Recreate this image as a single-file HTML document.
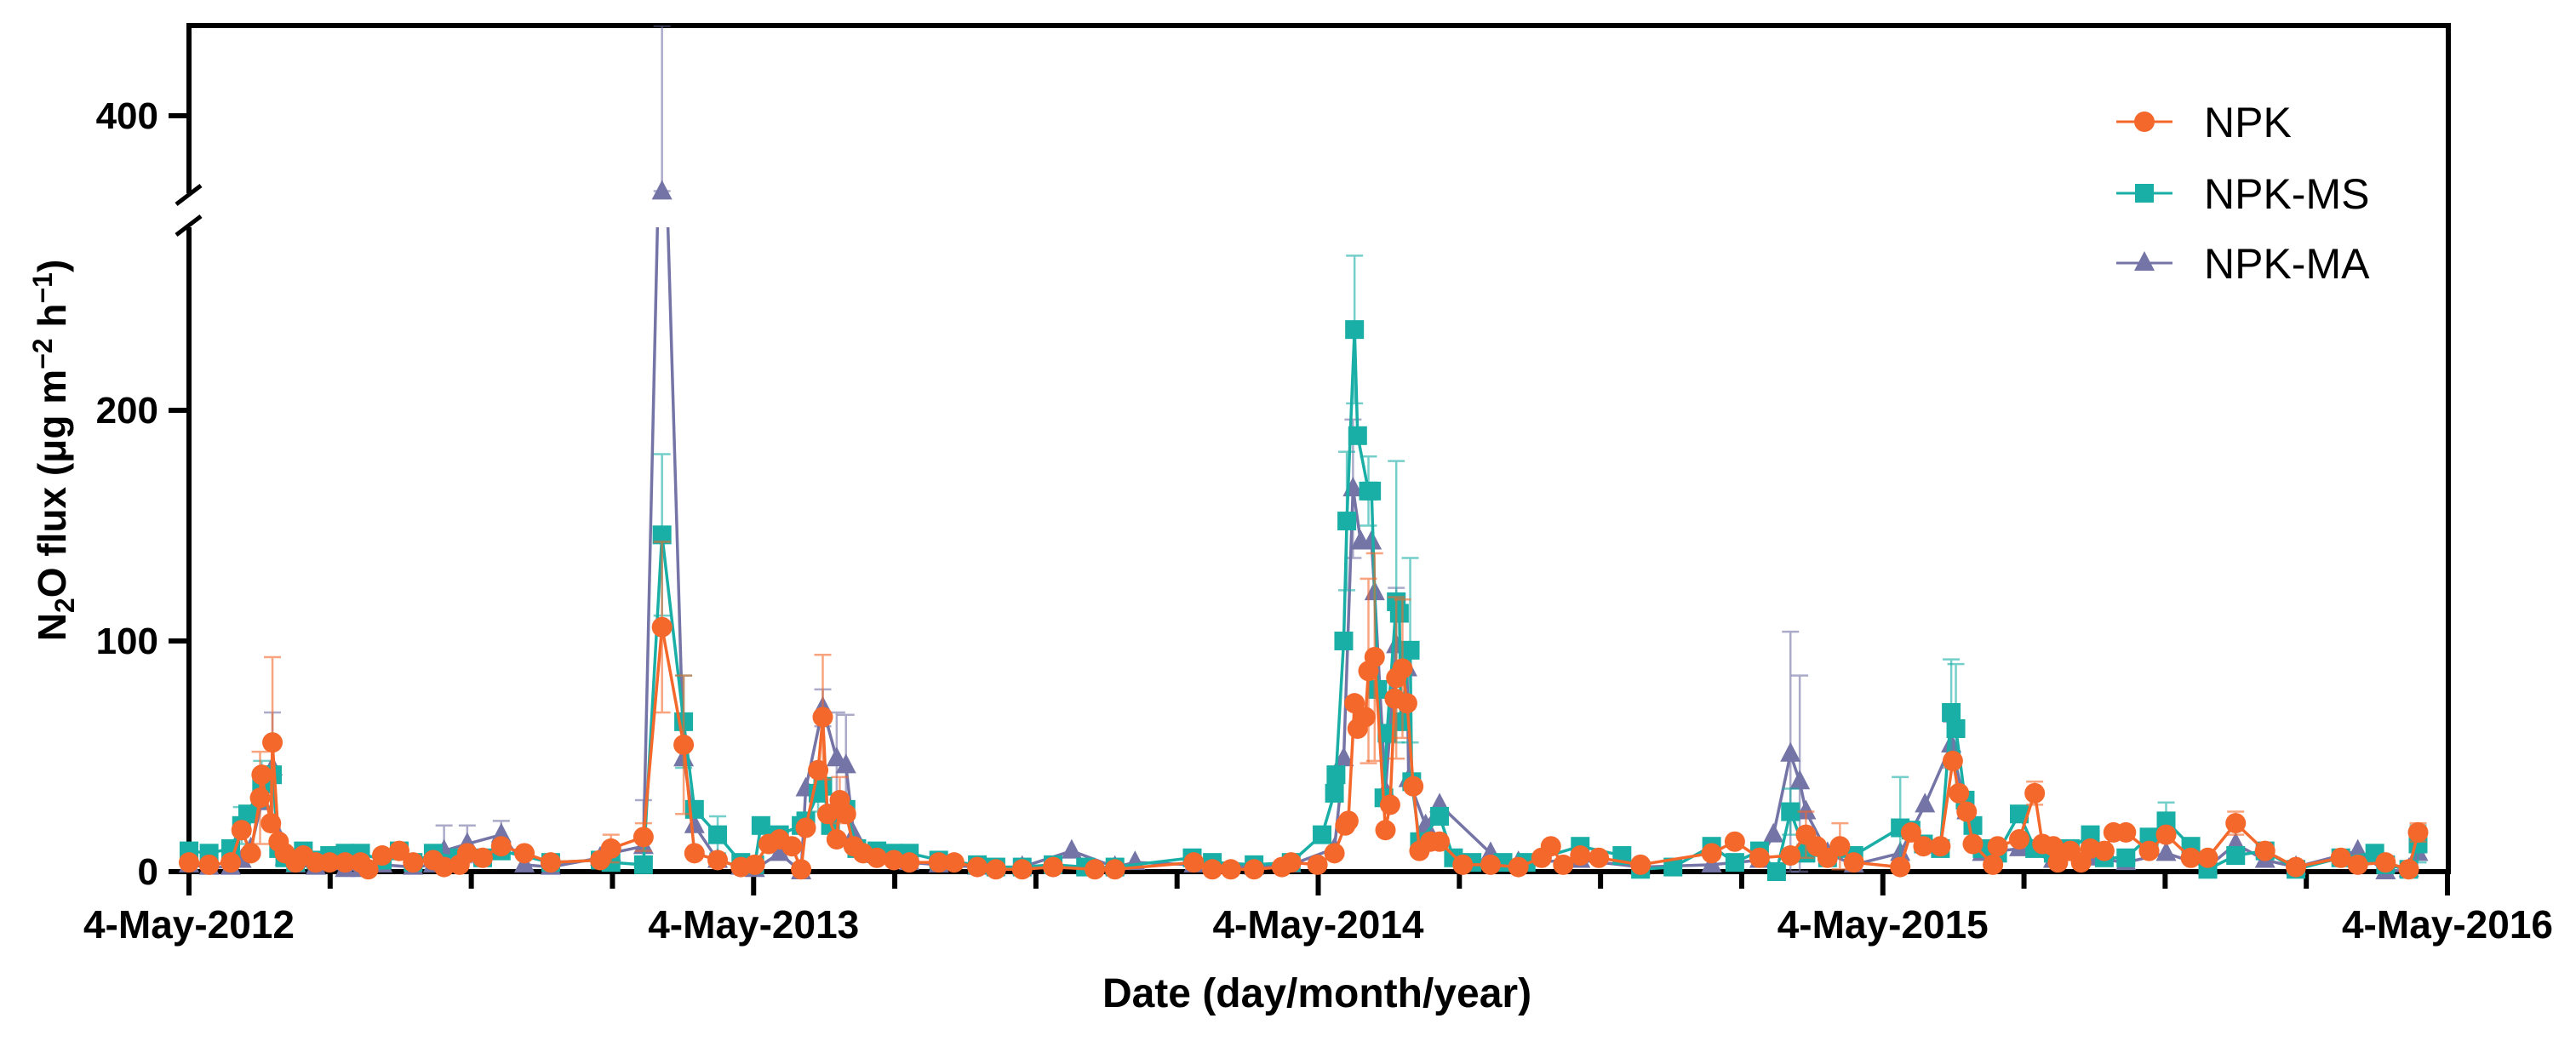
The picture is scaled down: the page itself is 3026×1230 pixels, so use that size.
<!DOCTYPE html>
<html><head><meta charset="utf-8"><style>
html,body{margin:0;padding:0;background:#fff;}
svg{display:block;font-family:"Liberation Sans",Arial,sans-serif;}
</style></head><body>
<svg id="chart" width="3026" height="1230" viewBox="0 0 3026 1230">
<defs>
<clipPath id="lowClip"><rect x="150" y="267" width="2800" height="800"/></clipPath>
<clipPath id="upClip"><rect x="150" y="30" width="2800" height="197"/></clipPath>
</defs>
<g id="axes"></g>
<g id="series"></g>
<g id="legend"></g>
</svg>
<script>
// ---- data: days since 4-May-2012, flux values ----
const npkDays=[0,13,27,34,40,46,47,53,54,58,62,69,74,82,91,101,111,116,125,136,145,158,165,175,180,190,202,217,234,266,273,294,306,320,327,342,357,366,375,382,390,396,399,407,410,413,419,421,425,430,436,445,456,466,485,495,510,522,539,559,586,599,650,662,674,689,707,713,730,741,748,750,754,756,761,763,767,774,777,780,781,785,788,792,796,803,809,824,842,860,875,881,889,900,912,939,985,1000,1016,1036,1046,1053,1060,1068,1077,1107,1114,1122,1133,1141,1145,1150,1154,1167,1170,1184,1194,1199,1206,1209,1217,1224,1230,1239,1245,1253,1268,1279,1295,1306,1324,1343,1363,1392,1403,1421,1436,1442];
const npkVals=[4,3,4,18,8,32,42,21,56,13,8,4,7,4,4,4,4,1,7,9,4,5,2,3,8,6,11,8,4,5,10,15,106,55,8,5,2,3,12,14,11,1,19,44,67,25,14,31,25,11,8,6,5,4,4,4,2,1,1,2,1,1,4,1,1,1,2,4,3,8,20,22,73,62,67,87,93,18,29,75,84,88,73,37,9,13,13,3,3,2,6,11,3,7,6,3,8,13,6,7,16,11,6,11,4,2,17,11,11,48,34,26,12,3,11,14,34,12,11,4,9,4,10,9,17,17,9,16,6,6,21,9,2,6,3,4,1,17];
const msDays=[0,13,27,34,38,47,54,58,62,69,74,82,91,101,111,125,136,145,158,175,190,202,234,266,273,294,306,320,327,342,357,366,370,382,396,399,407,410,415,425,432,445,456,466,485,510,522,539,559,580,599,649,662,689,713,733,741,742,747,749,754,756,763,765,769,773,775,781,783,784,790,791,796,809,818,830,850,865,900,927,939,960,985,1000,1016,1027,1036,1046,1060,1077,1107,1114,1122,1133,1140,1143,1149,1154,1160,1170,1184,1194,1206,1217,1230,1239,1253,1268,1279,1295,1306,1324,1343,1363,1392,1414,1421,1436,1442];
const msVals=[9,8,10,20,25,38,42,10,6,4,9,5,7,8,8,5,9,4,8,6,6,9,4,5,4,3,146,65,27,16,4,3,20,16,20,22,34,37,20,27,10,9,8,8,5,3,2,2,3,2,2,6,4,3,4,16,34,42,100,152,235,189,165,165,79,32,60,117,112,65,96,39,13,24,6,4,4,4,11,7,1,2,11,4,9,0,26,8,6,7,19,18,12,10,69,62,31,20,10,8,25,10,8,10,16,6,6,15,22,11,1,7,9,1,6,8,3,1,12];
const maDays=[0,13,27,34,40,47,54,58,62,69,82,101,111,125,145,158,165,180,202,217,234,266,273,294,306,320,327,342,357,366,382,396,399,410,419,425,430,445,466,485,510,539,571,599,612,650,689,713,741,747,753,758,765,767,774,781,788,789,800,809,842,860,900,939,985,1016,1025,1036,1042,1046,1060,1077,1107,1123,1140,1150,1160,1184,1206,1230,1253,1279,1306,1324,1343,1363,1403,1421,1436,1442];
const maVals=[3,2,2,5,10,30,45,15,6,3,2,1,1,3,2,3,9,12,16,3,2,6,8,11,367,49,20,5,2,1,8,0,36,71,49,46,16,7,4,3,2,2,9,2,4,3,2,3,10,49,166,143,143,121,35,98,88,40,20,29,8,4,5,2,3,5,16,51,39,26,8,3,8,29,55,26,8,10,5,6,4,8,2,12,5,2,9,0,1,8];
// error bars (sparse): day, +/- error
const npkErrDays=[46,54,273,294,306,320,410,421,763,767,781,785,1046,1068,1194,1324,1442];
const npkErrVals=[20,37,6,6,37,30,27,10,40,45,35,30,10,10,5,5,4];
const msErrDays=[34,47,306,320,342,407,754,749,763,781,790,1036,1107,1140,1143,1279,1442];
const msErrVals=[8,10,35,20,8,8,32,30,15,61,40,10,22,23,28,8,8];
const maErrDays=[54,165,180,202,294,306,410,419,425,573,753,781,1036,1042,1122,1140];
const maErrVals=[24,11,8,6,20,72,8,20,22,6,30,25,53,46,22,10];
// axis
const yTicks=[0,100,200,400];
const xYearLabels=["4-May-2012","4-May-2013","4-May-2014","4-May-2015","4-May-2016"];

const NS="http://www.w3.org/2000/svg";
const X0=222,YEAR=663.25,Y0=1024,PPU=2.71,BREAKLOW=300;
function xs(d){return X0+d/365.25*YEAR;}
function ys(v){return v>BREAKLOW?136-(v-400)*PPU:Y0-v*PPU;}
function mk(tag,attrs,parent){const e=document.createElementNS(NS,tag);for(const k in attrs)e.setAttribute(k,attrs[k]);parent.appendChild(e);return e;}
const axes=document.getElementById('axes'),ser=document.getElementById('series'),leg=document.getElementById('legend');

let e;
e=mk('path',{d:`M${X0} 267 V${Y0} H2876 V30 H${X0} V227`,fill:'none',stroke:'#000','stroke-width':6},axes);

e=mk('path',{d:'M207 240 L236 218 M207 276 L236 254',stroke:'#000','stroke-width':5},axes);

yTicks.forEach(t=>{const y=ys(t);
 e=mk('line',{x1:198,x2:X0,y1:y,y2:y,stroke:'#000','stroke-width':6},axes);
 
 e=mk('text',{x:186,y:y+15,'text-anchor':'end','font-size':44,'font-weight':'bold'},axes);e.textContent=t;
 });
for(let q=0;q<=16;q++){const x=X0+q*YEAR/4;const major=q%4===0;
 e=mk('line',{x1:x,x2:x,y1:Y0,y2:major?1052:1044,stroke:'#000','stroke-width':6},axes);
 
 if(major){e=mk('text',{x:x,y:1102,'text-anchor':'middle','font-size':46,'font-weight':'bold'},axes);e.textContent=xYearLabels[q/4];
 }}
e=mk('text',{x:1547,y:1183,'text-anchor':'middle','font-size':48,'font-weight':'bold'},axes);e.textContent='Date (day/month/year)';

e=mk('text',{x:0,y:0,'text-anchor':'middle','font-size':46,'font-weight':'bold',transform:'translate(77,529) rotate(-90)'},axes);
e.innerHTML='N<tspan font-size="32" dy="10">2</tspan><tspan dy="-10">O flux (μg m</tspan><tspan font-size="32" dy="-16">−2</tspan><tspan dy="16"> h</tspan><tspan font-size="32" dy="-16">−1</tspan><tspan dy="16">)</tspan>';


function marker(shape,x,y,c,g){let m;
 if(shape==='circle')m=mk('circle',{cx:x,cy:y,r:12,fill:c},g);
 else if(shape==='square')m=mk('rect',{x:x-11,y:y-11,width:22,height:22,fill:c},g);
 else m=mk('path',{d:`M${x} ${y-14} L${x+12} ${y+9} L${x-12} ${y+9}Z`,fill:c},g);
 return m;}
function drawSeries(name,days,vals,eDays,eVals,color,shape){
 const g=mk('g',{},ser);
 eDays.forEach((d,i)=>{const k=days.indexOf(d);if(k<0)return;const v=vals[k],er=eVals[i];const x=xs(d);
  const up=v>BREAKLOW;const t=ys(v+er),b=ys(Math.max(0,v-er));
  const eg=mk('g',{stroke:color,'stroke-width':2.5,opacity:0.6,'clip-path':up?'url(#upClip)':'url(#lowClip)'},g);
  
  mk('line',{x1:x,x2:x,y1:t,y2:b},eg);mk('line',{x1:x-10,x2:x+10,y1:t,y2:t},eg);mk('line',{x1:x-10,x2:x+10,y1:b,y2:b},eg);});
 const pts=days.map((d,i)=>xs(d)+','+(Y0-vals[i]*PPU)).join(' ');
 const pl=mk('polyline',{points:pts,fill:'none',stroke:color,'stroke-width':3.5,'stroke-linejoin':'round','clip-path':'url(#lowClip)'},g);
 
 days.forEach((d,i)=>{const m=marker(shape,xs(d),ys(vals[i]),color,g);
  });}
drawSeries('npk-ma',maDays,maVals,maErrDays,maErrVals,'#7474a6','tri');
drawSeries('npk-ms',msDays,msVals,msErrDays,msErrVals,'#19aea6','square');
drawSeries('npk',npkDays,npkVals,npkErrDays,npkErrVals,'#f4682b','circle');

[['NPK','#f4682b','circle',143],['NPK-MS','#19aea6','square',227],['NPK-MA','#7474a6','tri',309]].forEach(r=>{
 const g=mk('g',{},leg);
 mk('line',{x1:2486,x2:2552,y1:r[3],y2:r[3],stroke:r[1],'stroke-width':3},g);
 marker(r[2],2519,r[3],r[1],g);
 const t=mk('text',{x:2589,y:r[3]+18,'font-size':50},g);t.textContent=r[0];});
</script>
</body></html>
